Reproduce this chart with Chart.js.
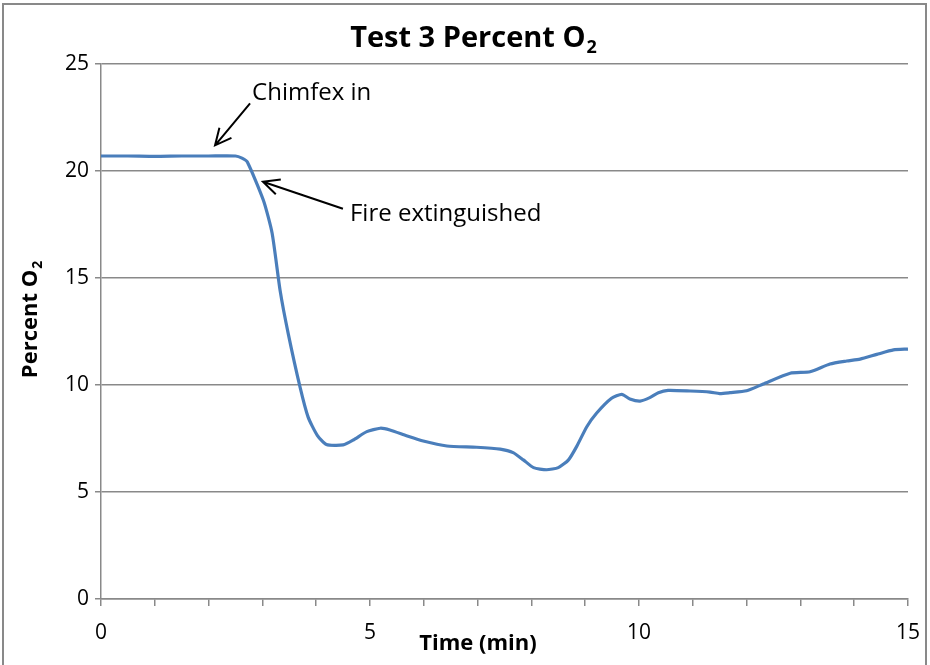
<!DOCTYPE html>
<html>
<head>
<meta charset="utf-8">
<script src="https://cdn.jsdelivr.net/npm/chart.js@4"></script>
<style>
  html, body { margin: 0; padding: 0; background: #fff; }
  canvas { display: block; }
</style>
</head>
<body>
<canvas id="o2Chart" width="930" height="665"></canvas>
<script>
// tiempos (min) y porcentaje de O2
const tiempos = [0, 0.5, 1.0, 1.5, 2.0, 2.5, 2.62, 2.72, 3.02, 3.18, 3.33, 3.48, 3.70, 3.85, 4.02, 4.19,
  4.50, 4.69, 4.94, 5.19, 5.37, 5.68, 5.99, 6.43, 6.98, 7.42, 7.66, 7.85, 8.04, 8.28, 8.50, 8.69,
  8.84, 9.03, 9.21, 9.49, 9.68, 9.83, 10.02, 10.2, 10.36, 10.54, 10.95, 11.32, 11.5, 11.69, 12.0,
  12.31, 12.81, 13.18, 13.55, 13.86, 14.11, 14.42, 14.73, 15.0];
const porcentajeO2 = [20.7, 20.7, 20.68, 20.7, 20.7, 20.7, 20.6, 20.42, 18.62, 17.1, 14.4, 12.4, 9.9, 8.5, 7.65, 7.22,
  7.2, 7.43, 7.82, 7.98, 7.9, 7.63, 7.38, 7.15, 7.09, 7.0, 6.84, 6.5, 6.14, 6.04, 6.14, 6.5,
  7.12, 8.05, 8.68, 9.38, 9.56, 9.35, 9.25, 9.41, 9.64, 9.75, 9.72, 9.67, 9.6, 9.64, 9.73,
  10.05, 10.55, 10.62, 10.98, 11.12, 11.21, 11.43, 11.64, 11.68];

const ticksX = [0, 5, 10, 15];
const ticksY = [0, 5, 10, 15, 20, 25];

// notas con flecha: punta en unidades del grafico
const notas = [
  { texto: 'Chimfex in', x: 2.12, y: 21.2, dx: 35, dy: -42, tx: 37, ty: -52 },
  { texto: 'Fire extinguished', x: 3.01, y: 19.5, dx: 80, dy: 27, tx: 87, ty: 32 }
];

const gris = '#898989';
const fuente = '"Open Sans", sans-serif';

function flecha(ctx, x1, y1, x2, y2) {
  const ang = Math.atan2(y2 - y1, x2 - x1);
  const largo = 18;
  ctx.beginPath();
  ctx.moveTo(x1, y1);
  ctx.lineTo(x2, y2);
  ctx.moveTo(x2 - largo * Math.cos(ang - 0.45), y2 - largo * Math.sin(ang - 0.45));
  ctx.lineTo(x2, y2);
  ctx.lineTo(x2 - largo * Math.cos(ang + 0.45), y2 - largo * Math.sin(ang + 0.45));
  ctx.stroke();
}

function textoConSub(ctx, base, sub, cx, cy, tam, centro) {
  ctx.font = 'bold ' + tam + 'px ' + fuente;
  const w1 = ctx.measureText(base).width;
  ctx.font = 'bold ' + Math.round(tam * 0.62) + 'px ' + fuente;
  const w2 = ctx.measureText(sub).width;
  let x = centro ? cx - (w1 + w2) / 2 : cx;
  ctx.textAlign = 'left';
  ctx.textBaseline = 'middle';
  ctx.font = 'bold ' + tam + 'px ' + fuente;
  ctx.fillText(base, x, cy);
  ctx.font = 'bold ' + Math.round(tam * 0.62) + 'px ' + fuente;
  ctx.fillText(sub, x + w1 + 1, cy + tam * 0.32);
}

const extras = {
  id: 'extras',
  afterDraw(chart) {
    const ctx = chart.ctx;
    const xs = chart.scales.x, ys = chart.scales.y;
    ctx.save();
    // marco exterior
    ctx.strokeStyle = gris;
    ctx.lineWidth = 2;
    ctx.strokeRect(3, 4, 923, 670);

    ctx.fillStyle = '#000';
    // titulo
    textoConSub(ctx, 'Test 3 Percent O', '2', 473, 39, 29, true);
    // titulo eje x
    ctx.font = 'bold 22px ' + fuente;
    ctx.textAlign = 'center';
    ctx.textBaseline = 'middle';
    ctx.fillText('Time (min)', 478, 644);
    // titulo eje y
    ctx.save();
    ctx.translate(31, 320);
    ctx.rotate(-Math.PI / 2);
    textoConSub(ctx, 'Percent O', '2', 0, 0, 22, true);
    ctx.restore();

    // notas
    ctx.strokeStyle = '#000';
    ctx.lineWidth = 2;
    ctx.font = '24px ' + fuente;
    ctx.textAlign = 'left';
    ctx.textBaseline = 'middle';
    notas.forEach(n => {
      const px = xs.getPixelForValue(n.x);
      const py = ys.getPixelForValue(n.y);
      flecha(ctx, px + n.dx, py + n.dy, px, py);
      ctx.fillText(n.texto, px + n.tx, py + n.ty);
    });
    ctx.restore();
  }
};

new Chart(document.getElementById('o2Chart'), {
  type: 'line',
  data: {
    datasets: [{
      label: 'Percent O2',
      data: tiempos.map((t, i) => ({ x: t, y: porcentajeO2[i] })),
      borderColor: '#4a7ebb',
      borderWidth: 3.2,
      pointRadius: 0,
      tension: 0.2,
      fill: false
    }]
  },
  options: {
    responsive: false,
    animation: false,
    devicePixelRatio: 1,
    layout: { padding: { top: 64, right: 22, left: 0, bottom: 0 } },
    scales: {
      x: {
        type: 'linear',
        min: 0,
        max: 15,
        afterFit(scale) {
          scale.height = 66;
          scale.paddingLeft = 0;
          scale.paddingRight = 0;
        },
        border: { color: gris, width: 1.5 },
        grid: { drawOnChartArea: false, color: gris, lineWidth: 1.5, tickLength: 7 },
        ticks: {
          stepSize: 1,
          autoSkip: false,
          maxRotation: 0,
          padding: 14,
          color: '#000',
          font: { family: fuente, size: 21 },
          callback: v => ticksX.includes(v) ? v : ''
        }
      },
      y: {
        min: 0,
        max: 25,
        afterFit(scale) {
          scale.width = 101;
          scale.paddingTop = 0;
          scale.paddingBottom = 0;
        },
        border: { color: gris, width: 1.5 },
        grid: { color: gris, lineWidth: 1.5, tickLength: 6 },
        ticks: {
          stepSize: 5,
          padding: 6,
          color: '#000',
          font: { family: fuente, size: 21 },
          callback: v => ticksY.includes(v) ? v : ''
        }
      }
    },
    plugins: {
      legend: { display: false },
      tooltip: { enabled: false },
      title: { display: false }
    }
  },
  plugins: [extras]
});
</script>
</body>
</html>
